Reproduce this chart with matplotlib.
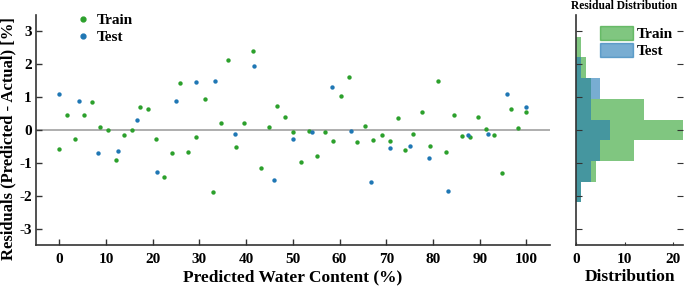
import matplotlib
matplotlib.use("Agg")
import matplotlib.pyplot as plt
from matplotlib.patches import Patch
from matplotlib.lines import Line2D

plt.rcParams['font.family'] = ['Liberation Serif', 'DejaVu Serif']
plt.rcParams['font.weight'] = 'bold'
plt.rcParams['axes.unicode_minus'] = False

# ---- data ----
train_x = [0, 1.7, 3.4, 5.2, 6.9, 8.6, 10.4, 12.1, 13.8, 15.5, 17.2, 18.9, 20.7, 22.4,
           24.2, 25.9, 27.6, 29.3, 31.1, 32.8, 34.5, 36.2, 37.8, 39.5, 41.5, 43.2, 44.9, 46.6, 48.3, 50.0,
           51.7, 53.4, 55.1, 56.8, 58.5, 60.4, 62.1, 63.8, 65.5, 67.2, 69.0, 70.7, 72.4, 74.1, 75.8,
           77.6, 79.3, 81.0, 82.8, 84.5, 86.2, 87.9, 89.6, 91.3, 93.0, 94.7, 96.6, 98.3, 100.0]
train_res = [-0.59, 0.47, -0.26, 0.47, 0.86, 0.08, 0.0, -0.92, -0.14, 0.0, 0.71, 0.65, -0.28, -1.42,
             -0.70, 1.43, -0.67, -0.22, 0.95, -1.89, 0.22, 2.13, -0.52, 0.22, 2.39, -1.14, 0.08, 0.73, 0.40, -0.05,
             -0.98, -0.03, -0.78, -0.05, -0.33, 1.04, 1.61, -0.35, 0.12, -0.31, -0.15, -0.33, 0.36, -0.62, -0.11,
             0.55, -0.49, 1.49, -0.67, 0.47, -0.18, -0.20, 0.39, 0.04, -0.16, -1.32, 0.63, 0.06, 0.54]
test_x = [0, 4.2, 8.3, 12.5, 16.6, 20.9, 25.0, 29.2, 33.3, 37.5, 41.7, 45.9, 50.0,
          54.1, 58.3, 62.4, 66.7, 70.8, 75.0, 79.1, 83.3, 87.5, 91.7, 95.8, 100.0]
test_res = [1.11, 0.88, -0.70, -0.64, 0.30, -1.28, 0.88, 1.45, 1.49, -0.11, 1.95, -1.52, -0.27,
            -0.07, 1.32, -0.03, -1.57, -0.54, -0.50, -0.86, -1.84, -0.16, -0.13, 1.11, 0.70]

bin_edges = [-2.2, -1.57, -0.94, -0.31, 0.32, 0.95, 1.58, 2.21, 2.84]
train_counts = [1, 4, 12, 22, 14, 3, 2, 1]
test_counts = [1, 3, 5, 7, 3, 5, 1, 0]

xticks = [0, 10, 20, 30, 40, 50, 60, 70, 80, 90, 100]
yticks = [-3, -2, -1, 0, 1, 2, 3]

green = '#2ca02c'
blue = '#1f77b4'

fig = plt.figure(figsize=(6.85, 2.88), dpi=100)
ax = fig.add_axes([0.0526, 0.149, 0.750, 0.799])
axh = fig.add_axes([0.841, 0.149, 0.156, 0.799])

ax.axhline(0, color='#a8a8a8', lw=1.3, zorder=1)
ax.scatter(train_x, train_res, s=10, color=green, zorder=3, linewidths=0)
ax.scatter(test_x, test_res, s=10, color=blue, zorder=3, linewidths=0)
ax.set_xlim(-5, 105)
ax.set_ylim(-3.5, 3.5)
ax.set_xticks(xticks)
ax.set_yticks(yticks)
for s in ['top', 'right']:
    ax.spines[s].set_visible(False)
for s in ['left', 'bottom']:
    ax.spines[s].set_linewidth(1.2)
    ax.spines[s].set_color('#333333')
ax.tick_params(direction='in', length=4, width=1, labelsize=11, color='#333333')
ax.tick_params(axis='x', pad=6)
ax.tick_params(axis='y', pad=3)
ax.set_xlabel('Predicted Water Content (%)', fontsize=12.5, fontweight='bold', labelpad=2)
ax.set_ylabel('Residuals (Predicted - Actual) [%]', fontsize=12, fontweight='bold')
ax.yaxis.set_label_coords(-0.039, 0.465)
handles = [Line2D([], [], marker='o', ls='', color=green, markersize=3.5, label='Train'),
           Line2D([], [], marker='o', ls='', color=blue, markersize=3.5, label='Test')]
ax.legend(handles=handles, loc='upper left', bbox_to_anchor=(0.047, 1.065), frameon=False,
          handletextpad=0.3, labelspacing=0.2, handlelength=1.2,
          prop={'weight': 'bold', 'size': 11})

heights = [bin_edges[i + 1] - bin_edges[i] for i in range(len(train_counts))]
axh.barh(bin_edges[:-1], train_counts, height=heights, align='edge', color=green, alpha=0.6, linewidth=0)
axh.barh(bin_edges[:-1], test_counts, height=heights, align='edge', color=blue, alpha=0.6, linewidth=0)
axh.set_ylim(-3.5, 3.5)
axh.set_xlim(0, 22)
axh.set_yticks(yticks)
axh.set_xticks([0, 10, 20])
axh.tick_params(axis='y', direction='in', length=4, labelleft=False, right=True, color='#333333')
axh.tick_params(axis='x', direction='in', length=2, labelsize=11, pad=6, color='#333333')
axh.spines['top'].set_visible(False)
axh.spines['right'].set_visible(False)
for s in ['left', 'bottom']:
    axh.spines[s].set_linewidth(1.2)
    axh.spines[s].set_color('#333333')
axh.set_xlabel('Distribution', fontsize=12.5, fontweight='bold', labelpad=2)
axh.set_title('Residual Distribution', fontsize=8.3, fontweight='bold', pad=4, x=0.45)
axh.legend(handles=[Patch(color=green, alpha=0.6, label='Train'), Patch(color=blue, alpha=0.6, label='Test')],
           loc='upper right', bbox_to_anchor=(1.03, 1.01), frameon=False,
           handlelength=2.2, handleheight=1.0, handletextpad=0.2, labelspacing=0.1,
           prop={'weight': 'bold', 'size': 11})

fig.savefig('out.png', dpi=100)
